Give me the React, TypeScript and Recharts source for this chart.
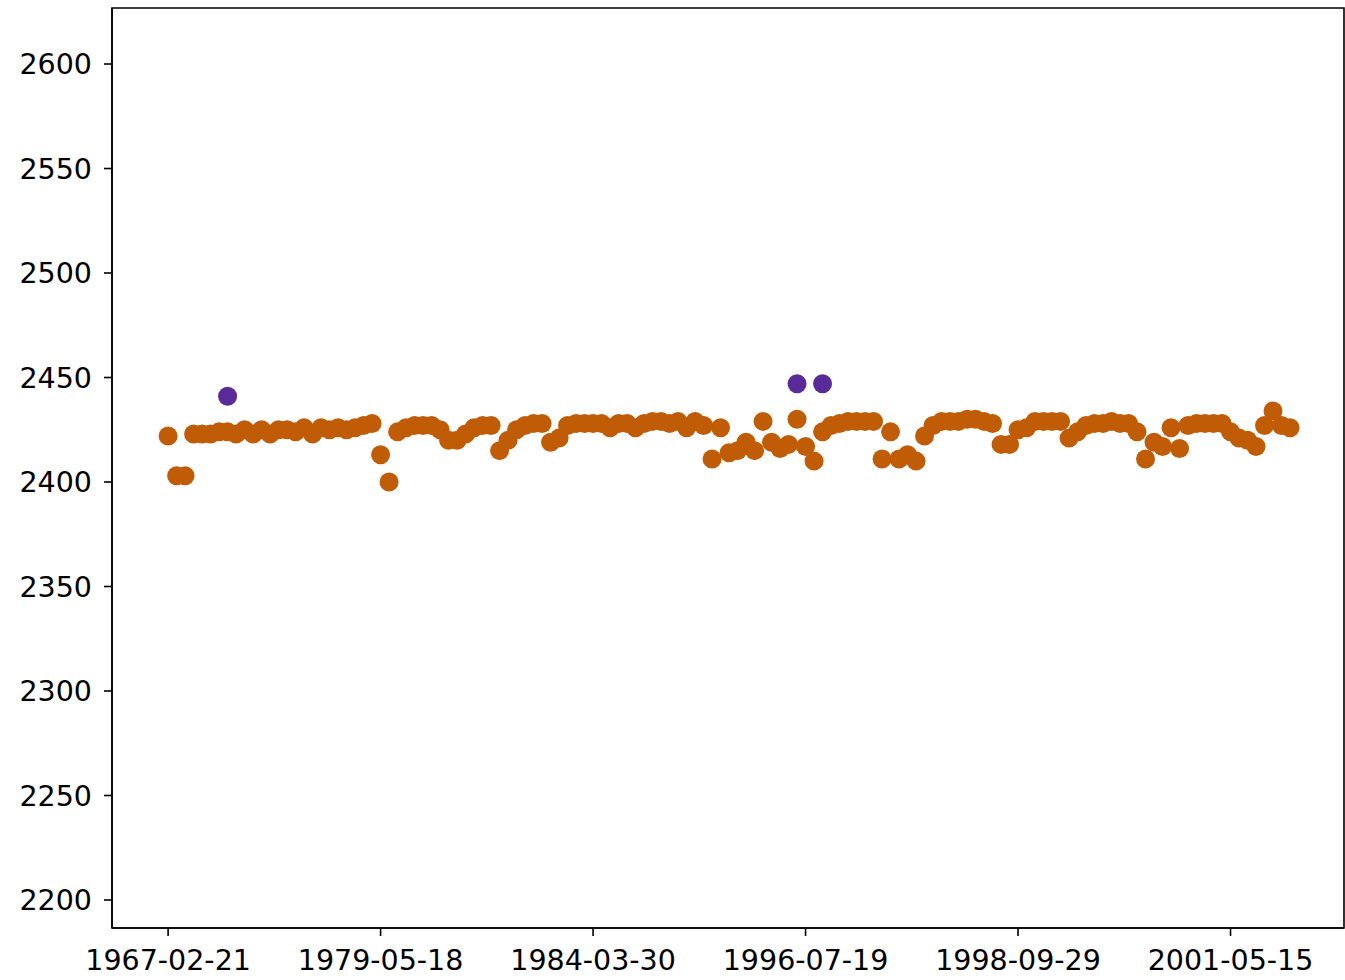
import { ScatterChart, Scatter, XAxis, YAxis, ReferenceArea } from "recharts";

// readings, one per date position (0..132)
const readings = [
  2422, 2403, 2403, 2423, 2423, 2423, 2424, 2424, 2423, 2425,
  2423, 2425, 2423, 2425, 2425, 2424, 2426, 2423, 2426, 2425,
  2426, 2425, 2426, 2427, 2428, 2413, 2400, 2424, 2426, 2427,
  2427, 2427, 2425, 2420, 2420, 2423, 2426, 2427, 2427, 2415,
  2420, 2425, 2427, 2428, 2428, 2419, 2421, 2427, 2428, 2428,
  2428, 2428, 2426, 2428, 2428, 2426, 2428, 2429, 2429, 2428,
  2429, 2426, 2429, 2427, 2411, 2426, 2414, 2415, 2419, 2415,
  2429, 2419, 2416, 2418, 2430, 2417, 2410, 2424, 2427, 2428,
  2429, 2429, 2429, 2429, 2411, 2424, 2411, 2413, 2410, 2422,
  2427, 2429, 2429, 2429, 2430, 2430, 2429, 2428, 2418, 2418,
  2425, 2426, 2429, 2429, 2429, 2429, 2421, 2424, 2427, 2428,
  2428, 2429, 2428, 2428, 2424, 2411, 2419, 2417, 2426, 2416,
  2427, 2428, 2428, 2428, 2428, 2424, 2421, 2420, 2417, 2427,
  2434, 2427, 2426,
];

// flagged points
const anomalyIdx = [7, 74, 77];
const anomalyVals = [2441, 2447, 2447];

const tickIdx = [0, 25, 50, 75, 100, 125];
const tickDates = ["1967-02-21", "1979-05-18", "1984-03-30", "1996-07-19", "1998-09-29", "2001-05-15"];
const yTicks = [2200, 2250, 2300, 2350, 2400, 2450, 2500, 2550, 2600];

const xDomain = [-6.6, 138.35];
const yDomain = [2186.6, 2626.8];

const mainData = readings.map((v, i) => ({ i, v }));
const anomalyData = anomalyIdx.map((i, k) => ({ i, v: anomalyVals[k] }));

const font = "DejaVu Sans, sans-serif";
const tickStyle = { fontSize: 28.5, fill: "#000", fontFamily: font };

export default function App() {
  return (
    <div style={{ position: "fixed", left: 0, top: 0, width: 1345, height: 980, overflow: "hidden", background: "#fff" }}>
      <ScatterChart width={1345} height={980} margin={{ top: 8, right: 1, bottom: 0, left: 0 }}>
        <XAxis
          type="number"
          dataKey="i"
          domain={xDomain}
          ticks={tickIdx}
          tickFormatter={(t: number) => tickDates[tickIdx.indexOf(t)] ?? ""}
          height={52}
          tickSize={8}
          tickMargin={14}
          tick={tickStyle}
          stroke="#000"
          strokeWidth={1.6}
          allowDataOverflow
        />
        <YAxis
          type="number"
          dataKey="v"
          domain={yDomain}
          ticks={yTicks}
          width={112}
          tickSize={8}
          tickMargin={12}
          tick={tickStyle}
          stroke="#000"
          strokeWidth={1.6}
          allowDataOverflow
        />
        <ReferenceArea
          x1={xDomain[0]}
          x2={xDomain[1]}
          y1={yDomain[0]}
          y2={yDomain[1]}
          fill="none"
          fillOpacity={0}
          stroke="#000"
          strokeWidth={1.6}
          strokeOpacity={1}
        />
        <Scatter
          data={mainData}
          isAnimationActive={false}
          shape={(p: any) => <circle cx={p.cx} cy={p.cy} r={9.5} fill="#c05c06" />}
        />
        <Scatter
          data={anomalyData}
          isAnimationActive={false}
          shape={(p: any) => <circle cx={p.cx} cy={p.cy} r={9.5} fill="#5a2a98" />}
        />
      </ScatterChart>
    </div>
  );
}
